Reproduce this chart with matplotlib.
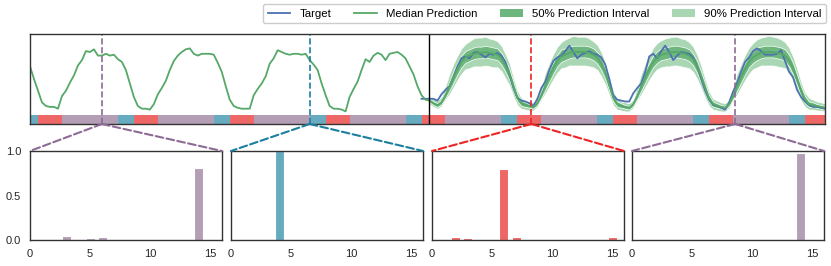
import numpy as np
from matplotlib import pyplot
from matplotlib.patches import Patch, ConnectionPatch
from matplotlib.lines import Line2D

pyplot.rcParams['font.family'] = ['Liberation Sans', 'DejaVu Sans']

# ---- data ----
# reconstructed history, t = 0..99
history = [0.64, 0.50, 0.37, 0.24, 0.20, 0.19, 0.19, 0.17, 0.31, 0.37,
           0.46, 0.54, 0.65, 0.71, 0.81, 0.80, 0.83, 0.76, 0.76, 0.78,
           0.76, 0.77, 0.72, 0.69, 0.60, 0.45, 0.30, 0.20, 0.17, 0.17,
           0.16, 0.22, 0.33, 0.40, 0.48, 0.60, 0.70, 0.76, 0.80, 0.83,
           0.84, 0.78, 0.76, 0.78, 0.78, 0.78, 0.77, 0.68, 0.58, 0.42,
           0.27, 0.20, 0.18, 0.17, 0.17, 0.17, 0.32, 0.39, 0.45, 0.53,
           0.67, 0.73, 0.82, 0.80, 0.78, 0.77, 0.78, 0.78, 0.77, 0.78,
           0.71, 0.66, 0.60, 0.45, 0.32, 0.20, 0.17, 0.17, 0.16, 0.14,
           0.30, 0.39, 0.47, 0.60, 0.72, 0.69, 0.76, 0.79, 0.77, 0.71,
           0.78, 0.79, 0.80, 0.77, 0.73, 0.64, 0.55, 0.42, 0.32, 0.27]

# forecast median, t = 100..199
median = [0.26, 0.23, 0.21, 0.24, 0.32, 0.42, 0.52, 0.61, 0.69, 0.74,
          0.76, 0.78, 0.79, 0.79, 0.80, 0.79, 0.78, 0.77, 0.73, 0.65,
          0.56, 0.42, 0.29, 0.23, 0.21, 0.20, 0.19, 0.23, 0.32, 0.43,
          0.53, 0.62, 0.70, 0.75, 0.77, 0.79, 0.80, 0.80, 0.80, 0.80,
          0.79, 0.77, 0.74, 0.67, 0.57, 0.43, 0.29, 0.22, 0.20, 0.19,
          0.18, 0.22, 0.31, 0.42, 0.52, 0.61, 0.69, 0.74, 0.77, 0.78,
          0.79, 0.80, 0.80, 0.79, 0.78, 0.76, 0.72, 0.64, 0.53, 0.40,
          0.28, 0.22, 0.20, 0.19, 0.18, 0.22, 0.31, 0.42, 0.52, 0.61,
          0.69, 0.74, 0.77, 0.79, 0.80, 0.80, 0.80, 0.79, 0.78, 0.76,
          0.71, 0.62, 0.50, 0.37, 0.27, 0.22, 0.21, 0.20, 0.19, 0.18]

# distance of the interval edges from the median, t = 100..199
hi90 = [0.05, 0.05, 0.05, 0.06,
        0.10, 0.14, 0.15, 0.15, 0.15, 0.15, 0.16, 0.17, 0.17, 0.17, 0.17, 0.16,
        0.16, 0.15, 0.14, 0.13, 0.12, 0.10, 0.08, 0.06, 0.05, 0.05, 0.05, 0.05,
        0.10, 0.14, 0.15, 0.16, 0.16, 0.16, 0.17, 0.17, 0.18, 0.17, 0.17, 0.17,
        0.16, 0.15, 0.14, 0.13, 0.12, 0.10, 0.08, 0.06, 0.05, 0.05, 0.05, 0.05,
        0.10, 0.14, 0.15, 0.15, 0.16, 0.16, 0.16, 0.17, 0.17, 0.17, 0.17, 0.16,
        0.16, 0.15, 0.14, 0.13, 0.12, 0.10, 0.08, 0.06, 0.06, 0.05, 0.05, 0.05,
        0.10, 0.14, 0.15, 0.16, 0.16, 0.16, 0.17, 0.17, 0.17, 0.18, 0.17, 0.17,
        0.16, 0.15, 0.14, 0.13, 0.12, 0.10, 0.08, 0.07, 0.06, 0.05, 0.05, 0.05]
hi50 = [0.02, 0.02, 0.02, 0.03,
        0.04, 0.06, 0.07, 0.07, 0.07, 0.07, 0.07, 0.07, 0.07, 0.07, 0.07, 0.07,
        0.07, 0.07, 0.06, 0.06, 0.05, 0.05, 0.04, 0.03, 0.03, 0.02, 0.02, 0.02,
        0.04, 0.06, 0.07, 0.07, 0.07, 0.08, 0.07, 0.07, 0.07, 0.07, 0.07, 0.07,
        0.07, 0.07, 0.06, 0.06, 0.05, 0.05, 0.04, 0.03, 0.03, 0.02, 0.02, 0.02,
        0.04, 0.06, 0.07, 0.07, 0.07, 0.07, 0.07, 0.07, 0.07, 0.07, 0.07, 0.07,
        0.07, 0.07, 0.06, 0.06, 0.05, 0.05, 0.04, 0.03, 0.03, 0.02, 0.02, 0.02,
        0.04, 0.06, 0.07, 0.07, 0.07, 0.07, 0.08, 0.07, 0.07, 0.07, 0.07, 0.07,
        0.07, 0.07, 0.06, 0.06, 0.05, 0.05, 0.04, 0.03, 0.03, 0.02, 0.02, 0.02]
lo50 = [0.02, 0.02, 0.02, 0.02,
        0.03, 0.05, 0.06, 0.06, 0.06, 0.06, 0.06, 0.06, 0.06, 0.06, 0.06, 0.06,
        0.06, 0.06, 0.07, 0.07, 0.07, 0.06, 0.04, 0.03, 0.02, 0.02, 0.02, 0.02,
        0.03, 0.05, 0.06, 0.06, 0.06, 0.06, 0.06, 0.06, 0.06, 0.06, 0.06, 0.06,
        0.06, 0.06, 0.07, 0.07, 0.07, 0.06, 0.04, 0.03, 0.02, 0.02, 0.02, 0.02,
        0.03, 0.05, 0.06, 0.06, 0.06, 0.06, 0.06, 0.06, 0.06, 0.06, 0.06, 0.06,
        0.06, 0.06, 0.07, 0.07, 0.07, 0.06, 0.04, 0.03, 0.02, 0.02, 0.02, 0.02,
        0.03, 0.05, 0.06, 0.06, 0.06, 0.06, 0.06, 0.06, 0.06, 0.06, 0.06, 0.06,
        0.06, 0.06, 0.07, 0.07, 0.07, 0.06, 0.04, 0.03, 0.02, 0.02, 0.02, 0.02]
lo90 = [0.04, 0.04, 0.04, 0.04,
        0.05, 0.09, 0.11, 0.12, 0.13, 0.13, 0.14, 0.14, 0.15, 0.15, 0.15, 0.15,
        0.15, 0.14, 0.14, 0.14, 0.13, 0.11, 0.08, 0.06, 0.05, 0.05, 0.04, 0.04,
        0.05, 0.09, 0.11, 0.12, 0.13, 0.13, 0.14, 0.14, 0.15, 0.15, 0.15, 0.15,
        0.15, 0.14, 0.14, 0.14, 0.13, 0.11, 0.08, 0.06, 0.05, 0.05, 0.04, 0.04,
        0.05, 0.09, 0.11, 0.12, 0.13, 0.13, 0.14, 0.14, 0.15, 0.15, 0.15, 0.15,
        0.15, 0.14, 0.14, 0.14, 0.13, 0.11, 0.08, 0.06, 0.05, 0.05, 0.04, 0.04,
        0.05, 0.09, 0.11, 0.12, 0.13, 0.13, 0.14, 0.14, 0.15, 0.15, 0.15, 0.15,
        0.15, 0.14, 0.14, 0.14, 0.13, 0.11, 0.08, 0.06, 0.05, 0.05, 0.04, 0.04]

# target, t = 98..199
target = [0.28, 0.28,
          0.28, 0.28, 0.26, 0.33, 0.38, 0.42, 0.52, 0.64, 0.73, 0.75,
          0.73, 0.79, 0.80, 0.77, 0.74, 0.78, 0.77, 0.79, 0.76, 0.69,
          0.55, 0.40, 0.29, 0.26, 0.25, 0.23, 0.20, 0.28, 0.40, 0.47,
          0.60, 0.70, 0.74, 0.76, 0.81, 0.87, 0.80, 0.73, 0.77, 0.79,
          0.81, 0.78, 0.77, 0.74, 0.66, 0.50, 0.32, 0.27, 0.26, 0.25,
          0.25, 0.34, 0.40, 0.45, 0.58, 0.75, 0.78, 0.73, 0.81, 0.87,
          0.80, 0.71, 0.76, 0.80, 0.79, 0.78, 0.74, 0.64, 0.50, 0.37,
          0.27, 0.21, 0.20, 0.18, 0.16, 0.24, 0.36, 0.46, 0.58, 0.69,
          0.74, 0.81, 0.84, 0.81, 0.77, 0.77, 0.77, 0.78, 0.82, 0.70,
          0.58, 0.52, 0.38, 0.30, 0.25, 0.21, 0.19, 0.19, 0.18, 0.17]

# regime sequence as runs (state, length)
regime_states  = [4, 6, 14, 4, 6, 14, 4, 6, 14, 4, 6, 14, 4, 6, 14,
                  4, 6, 14, 4, 6, 14, 4, 6, 14, 4, 6]
regime_lengths = [2, 6, 14, 4, 6, 14, 4, 6, 14, 4, 6, 14, 4, 6, 14,
                  4, 6, 14, 4, 6, 14, 4, 6, 14, 4, 5]

# zoomed time steps and their state distributions
zoom_t      = [18, 70, 125.5, 176.5]
zoom_state  = [14, 4, 6, 14]
states      = np.arange(16)
probs = [
    [0, 0, 0, 0.05, 0.005, 0.02, 0.03, 0.01, 0.005, 0.01, 0, 0, 0, 0, 0.81, 0],
    [0, 0, 0, 0, 1.0, 0, 0, 0, 0, 0, 0, 0, 0, 0, 0, 0],
    [0, 0.015, 0.03, 0.025, 0, 0, 0.80, 0.03, 0, 0, 0, 0, 0, 0, 0, 0.03],
    [0, 0, 0, 0, 0, 0, 0, 0, 0, 0, 0, 0, 0, 0, 0.98, 0],
]

# ---- styles ----
band_col = {4: '#66abbf', 6: '#ef6666', 14: '#b49eb6'}
line_col = {4: '#1b7fa0', 6: '#ee2424', 14: '#8d6b95'}
c_blue   = '#4c72b0'
c_green  = '#55a868'
c_50     = '#6db77f'
c_90     = '#a9d6b3'
c_spine  = '#333333'

t_hist = np.arange(0, 100)
t_fc   = np.arange(100, 200)
t_tgt  = np.arange(98, 200)
med    = np.array(median)

pyplot.close('all')
fig = pyplot.figure(figsize=(8.31, 2.66), dpi=100)
W, H = 831., 266.

# top panel
ax0 = fig.add_axes([30/W, 1-124/H, 795/W, 90/H])
ax0.fill_between(t_fc, med-np.array(lo90), med+np.array(hi90), color=c_90,
                 edgecolor='white', lw=0.5)
ax0.fill_between(t_fc, med-np.array(lo50), med+np.array(hi50), color=c_50,
                 edgecolor='white', lw=0.5)
ax0.plot(t_tgt, target, color=c_blue, lw=1.3)
ax0.plot(np.concatenate([t_hist, t_fc]), np.concatenate([history, median]),
         color=c_green, lw=1.3)
ax0.axvline(100, color='k', lw=1.0)

x0 = 0
for s, n in zip(regime_states, regime_lengths):
    ax0.broken_barh([(x0, n)], (0, 0.095), facecolor=band_col[s], lw=0)
    x0 += n

for t, s in zip(zoom_t, zoom_state):
    ax0.axvline(t, color=line_col[s], ls='--', lw=1.2)

ax0.set_xlim(0, 199)
ax0.set_ylim(0, 1)
ax0.set_xticks([])
ax0.set_yticks([])

# bottom panels
lefts = [30, 231, 432, 632]
for i, (p, s, t) in enumerate(zip(probs, zoom_state, zoom_t)):
    ax = fig.add_axes([lefts[i]/W, 1-240/H, 192/W, 89/H])
    ax.bar(states, p, width=0.75, color=band_col[s], edgecolor='white', lw=0.8)
    ax.set_xlim(0, 16)
    ax.set_ylim(0, 1)
    ax.set_xticks([0, 5, 10, 15])
    if i == 0:
        ax.set_yticks([0, 0.5, 1.0])
        ax.set_yticklabels(['0.0', '0.5', '1.0'])
    else:
        ax.set_yticks([])
    ax.tick_params(length=0, labelsize=8, pad=6.5, colors='#262626')
    for sp in ax.spines.values():
        sp.set_color(c_spine)
        sp.set_linewidth(1.0)
    for xb in (0, 1):
        con = ConnectionPatch(xyA=(t, 0), coordsA=ax0.transData,
                              xyB=(xb, 1), coordsB=ax.transAxes,
                              color=line_col[s], ls='--', lw=1.5)
        fig.add_artist(con)

for sp in ax0.spines.values():
    sp.set_color(c_spine)
    sp.set_linewidth(1.0)

handles = [Line2D([], [], color=c_blue, lw=1.3),
           Line2D([], [], color=c_green, lw=1.3),
           Patch(facecolor=c_50, edgecolor='none'),
           Patch(facecolor=c_90, edgecolor='none')]
labels = ['Target', 'Median Prediction', '50% Prediction Interval', '90% Prediction Interval']
fig.legend(handles, labels, loc='upper right', bbox_to_anchor=(826/W, 1-4/H),
           ncol=4, fontsize=8.2, borderaxespad=0, edgecolor='#cccccc', framealpha=1)

pyplot.savefig('out.png', dpi=100)
